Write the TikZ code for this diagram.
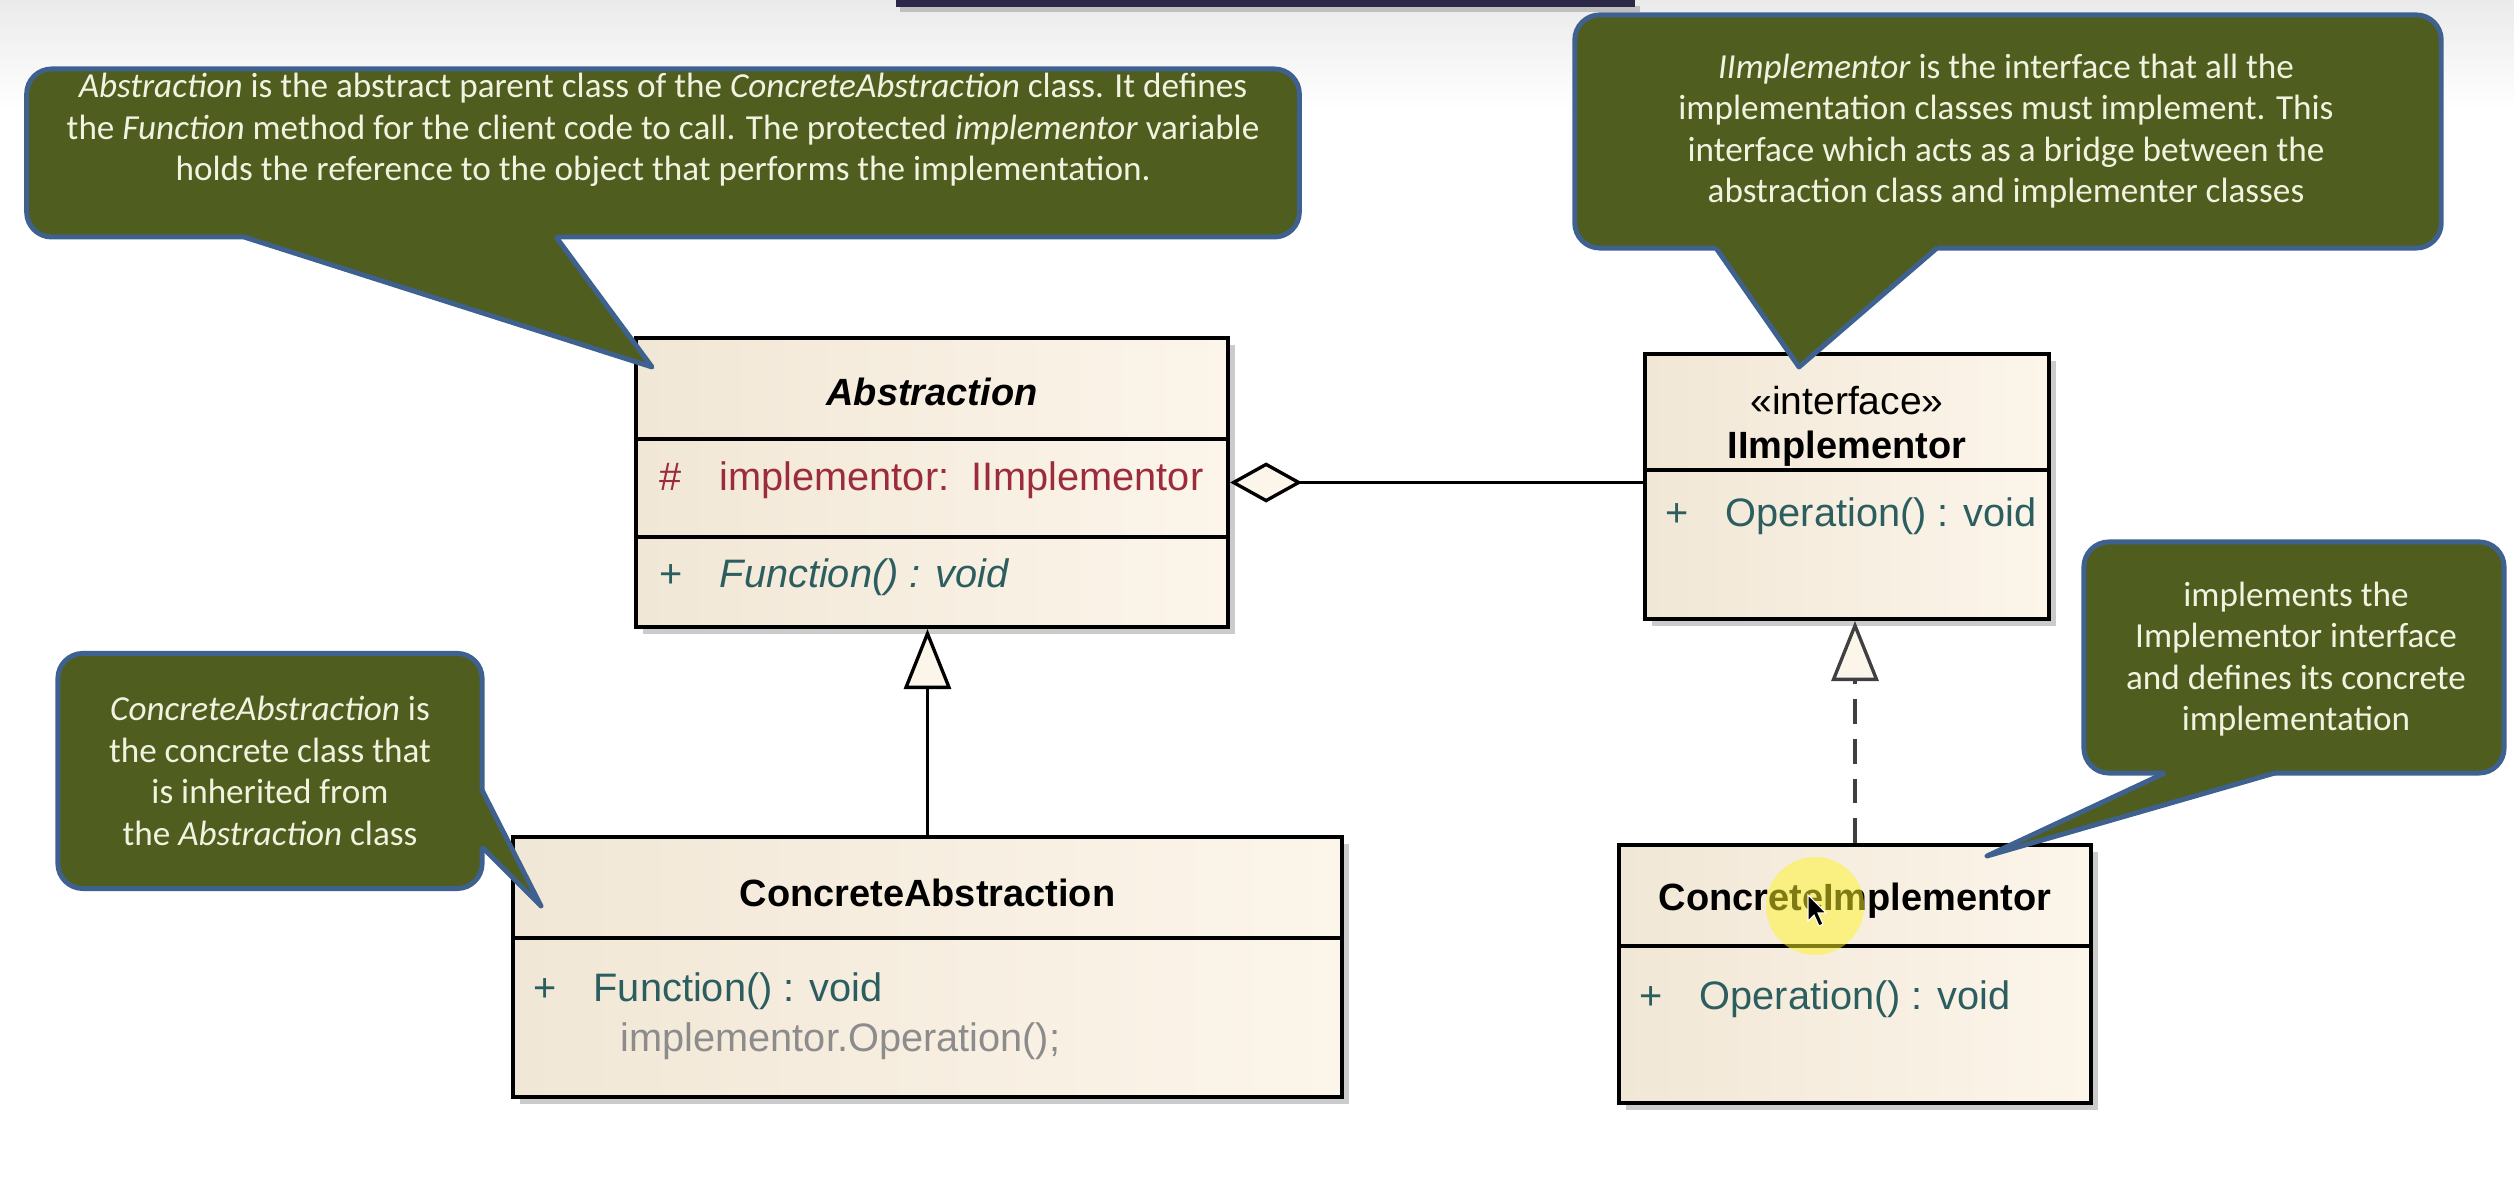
\documentclass[tikz,border=0pt]{standalone}
\usepackage{fontspec}
\setmainfont{Liberation Sans}
\newfontfamily\notefont{Carlito}
\usetikzlibrary{arrows.meta,positioning,shadows}

\definecolor{noteOlive}{HTML}{4F5D1F}
\definecolor{noteBlue}{HTML}{3F6190}
\definecolor{noteInk}{HTML}{F1F2DF}
\definecolor{clsLeft}{HTML}{F1E7D6}
\definecolor{clsRight}{HTML}{FCF5EA}
\definecolor{attrRed}{HTML}{9C2B3B}
\definecolor{opTeal}{HTML}{2C5E60}
\definecolor{codeGray}{HTML}{8C8C8C}
\definecolor{barNavy}{HTML}{2C2848}

\newcommand{\member}[2]{\makebox[0.6cm][l]{#1}#2}

\begin{document}
\begin{tikzpicture}[
  x=0.01cm, y=-0.01cm,
  cls/.style={draw=black,line width=1.1pt,left color=clsLeft,right color=clsRight,inner sep=0,
              drop shadow={shadow xshift=0.07cm,shadow yshift=-0.07cm,fill=black!40,opacity=0.5}},
  sep/.style={draw=black,line width=1.1pt},
  ttl/.style={font=\fontsize{10.8}{13}\selectfont\bfseries},
  mbr/.style={anchor=west,inner sep=0,font=\fontsize{11.3}{13}\selectfont},
  note/.style={draw=noteBlue,fill=noteOlive,line width=1.4pt,rounded corners=0.25cm},
  notetxt/.style={text=noteInk,inner sep=0,align=center,font=\notefont\fontsize{10}{11.8}\selectfont},
  tailfill/.style={fill=noteOlive},
  tailedge/.style={draw=noteBlue,line width=1.4pt,line join=round},
  gen/.style={-{Triangle[length=0.6cm,width=0.47cm,fill=clsRight]},line width=0.95pt},
  real/.style={gen,draw=black!75,dash pattern=on 7pt off 4.3pt},
  agg/.style={{Diamond[length=0.72cm,width=0.4cm,fill=clsRight]}-,line width=0.95pt}
]
  \useasboundingbox (0,0) rectangle (2514,1180);
  \fill[white] (0,0) rectangle (2514,1180);
  \shade[top color=black!8,bottom color=white] (0,0) rectangle (2514,110);
  \fill[black!25] (900,6) rectangle (1640,12);
  \fill[barNavy] (896,0) rectangle (1635,7);

  % ── Classes ───────────────────────────────────────────────────────────────
  \node[cls,minimum width=5.92cm,minimum height=2.89cm] (abs) at (932,482.5) {};
  \draw[sep] (abs.west |- 0,439) -- (abs.east |- 0,439);
  \draw[sep] (abs.west |- 0,537) -- (abs.east |- 0,537);
  \node[ttl] (absname) at (932,392) {\itshape Abstraction};
  \node[mbr,text=attrRed] (absattr) at (659,480) {\member{\#}{implementor:\ \ IImplementor}};
  \node[mbr,text=opTeal]  (absop)   at (659,577) {\member{+}{\itshape Function() : void}};

  \node[cls,minimum width=4.04cm,minimum height=2.65cm] (iimp) at (1847,486.5) {};
  \draw[sep] (iimp.west |- 0,470) -- (iimp.east |- 0,470);
  \node[font=\fontsize{11.1}{13}\selectfont] (stereo) at (1847,401) {«interface»};
  \node[ttl] (iimpname) at (1847,449) {IImplementor};
  \node[mbr,text=opTeal] (iimpop) at (1665,516) {\member{+}{Operation() : void}};

  \node[cls,minimum width=8.29cm,minimum height=2.60cm] (cabs) at (927.5,967) {};
  \draw[sep] (cabs.west |- 0,938) -- (cabs.east |- 0,938);
  \node[ttl] (cabsname) at (927.5,893) {ConcreteAbstraction};
  \node[mbr,text=opTeal] (cabsop) at (533,991) {\member{+}{Function() : void}};
  \node[mbr,text=codeGray] (cabscode) at (620,1041) {implementor.Operation();};

  \node[cls,minimum width=4.72cm,minimum height=2.58cm] (cimp) at (1855,974) {};
  \draw[sep] (cimp.west |- 0,946) -- (cimp.east |- 0,946);
  \node[ttl] (cimpname) at (1855,901) {ConcreteImplementor};
  \node[mbr,text=opTeal] (cimpop) at (1639,999) {\member{+}{Operation() : void}};

  % ── Relations ─────────────────────────────────────────────────────────────
  \draw[agg]  (abs.east) -- (abs.east -| iimp.west);
  \draw[gen]  (cabs.north) -- (cabs.north |- abs.south);
  \draw[real] (cimp.north) -- (cimp.north |- iimp.south);

  % cursor highlight
  \fill[yellow!85!white,opacity=0.5] (1815,906) circle [radius=0.49cm];
  \filldraw[fill=black,draw=white,line width=0.3pt] (1808,895) -- (1808,921) -- (1814,915)
    -- (1819,926) -- (1823,924) -- (1818,913) -- (1826,913) -- cycle;

  % ── Notes ─────────────────────────────────────────────────────────────────
  \node[note,minimum width=12.72cm,minimum height=1.68cm] (n1) at (663,153) {};
  \fill[tailfill] (244,230) -- (556,230) -- (556,237) -- (652,367) -- (244,237) -- cycle;
  \draw[tailedge] (244,237) -- (652,367) -- (556,237);
  \node[notetxt] (n1txt) at (663,130) {\textit{Abstraction} is the abstract parent class of the \textit{ConcreteAbstraction} class. It defines\\
    the \textit{Function} method for the client code to call. The protected \textit{implementor} variable\\
    holds the reference to the object that performs the implementation.};

  \node[note,minimum width=8.66cm,minimum height=2.33cm] (n2) at (2008,131.5) {};
  \fill[tailfill] (1716,241) -- (1937,241) -- (1937,248) -- (1799,367) -- (1716,248) -- cycle;
  \draw[tailedge] (1716,248) -- (1799,367) -- (1937,248);
  \node[notetxt] (n2txt) at (2006,131) {\textit{IImplementor} is the interface that all the\\
    implementation classes must implement. This\\
    interface which acts as a bridge between the\\
    abstraction class and implementer classes};

  \node[note,minimum width=4.24cm,minimum height=2.35cm] (n3) at (270,771) {};
  \fill[tailfill] (475,790) -- (482,790) -- (541,906) -- (482,847) -- (475,847) -- cycle;
  \draw[tailedge] (482,790) -- (541,906) -- (482,847);
  \node[notetxt] (n3txt) at (270,771) {\textit{ConcreteAbstraction} is\\
    the concrete class that\\
    is inherited from\\
    the \textit{Abstraction} class};

  \node[note,minimum width=4.20cm,minimum height=2.31cm] (n4) at (2294,657.5) {};
  \fill[tailfill] (2165,766) -- (2275,766) -- (2275,773) -- (1987,856) -- (2165,773) -- cycle;
  \draw[tailedge] (2165,773) -- (1987,856) -- (2275,773);
  \node[notetxt] (n4txt) at (2296,659) {implements the\\
    Implementor interface\\
    and defines its concrete\\
    implementation};
\end{tikzpicture}
\end{document}
